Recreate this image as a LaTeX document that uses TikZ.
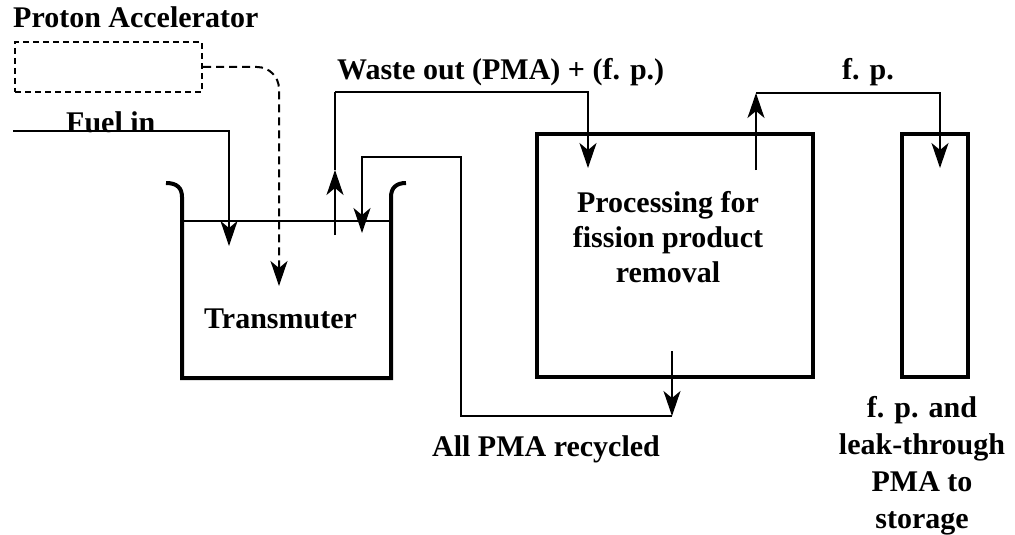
\documentclass[tikz,border=0pt]{standalone}
\usepackage{fontspec}
\setmainfont{Liberation Serif}
\usetikzlibrary{arrows.meta}
\begin{document}
\begin{tikzpicture}[x=1pt,y=-1pt,
  lbl/.style={font=\bfseries\fontsize{30}{35}\selectfont, inner sep=0pt},
  flow/.style={line width=1.8pt},
  thickbox/.style={draw, line width=4pt, inner sep=0pt, anchor=north west},
  tip/.style={-{Stealth[length=25pt,width=17pt,inset=7pt]}}]
\useasboundingbox (0,0) rectangle (1015,535);
% boxes
\node[draw, dash pattern=on 6pt off 4pt, line width=2pt, inner sep=0pt, anchor=north west,
  minimum width=187pt, minimum height=50pt] (acc) at (14,41) {};
\node[thickbox, minimum width=276.5pt, minimum height=243pt] (proc) at (534.5,132) {};
\node[thickbox, minimum width=66.5pt, minimum height=243pt] (store) at (899.5,132) {};
% tank
\coordinate (lipL) at (166,183);
\coordinate (wallL) at (182,197);
\coordinate (botL) at (182,378);
\coordinate (botR) at (391,378);
\coordinate (wallR) at (391,197);
\coordinate (lipR) at (406,183);
\draw[line width=4pt] (lipL) .. controls (177,183) and (182,188) .. (wallL) -- (botL) -- (botR) -- (wallR)
  .. controls (391,188) and (396,183) .. (lipR);
\coordinate (liqL) at (182,221);
\coordinate (liqR) at (391,221);
\draw[flow] (liqL) -- (liqR);
% labels
\node[lbl, anchor=base west] (lacc) at (13,28) {Proton Accelerator};
\node[lbl, anchor=base west] (lfuel) at (66,132) {Fuel in};
\node[lbl, anchor=base west] (lwaste) at (337,80) {Waste out (PMA) + (f. p.)};
\node[lbl, anchor=base west] (lfp) at (842,80) {f. p.};
\node[lbl, anchor=base west] (ltrans) at (204,328) {Transmuter};
\node[lbl, anchor=base] (lrec) at (546,456) {All PMA recycled};
\node[lbl, align=center, anchor=base] (lproc) at (668,282) {Processing for\\fission product\\removal};
\node[lbl, align=center, anchor=base, font=\bfseries\fontsize{30}{37}\selectfont] (lstore) at (922,528) {f. p. and\\leak-through\\PMA to\\storage};
% connectors
\coordinate (beamE) at (279,286);
\draw[line width=2pt, dash pattern=on 8pt off 5pt, rounded corners=22pt, tip] (acc.east) -| (beamE);
\coordinate (fuelS) at (13,131);
\coordinate (fuelE) at (229,246);
\draw[flow, tip] (fuelS) -| (fuelE);
\coordinate (wS) at (335,235);
\coordinate (wM) at (335,170);
\coordinate (wT) at (335,92);
\coordinate (wE) at (588,168);
\draw[flow, tip] (wS) -- (wM);
\draw[flow] (wM) -- (wT);
\draw[flow, tip] (wT) -| (wE);
\coordinate (rS) at (672,351);
\coordinate (rM) at (672,416);
\coordinate (rK) at (461,157);
\coordinate (rE) at (362,233);
\draw[flow, tip] (rS) -- (rM);
\draw[flow, tip] (rM) -| (rK) -| (rE);
\coordinate (fS) at (756,170);
\coordinate (fT) at (756,93);
\coordinate (fE) at (940,168);
\draw[flow, tip] (fS) -- (fT);
\draw[flow, tip] (fT) -| (fE);
\end{tikzpicture}
\end{document}
